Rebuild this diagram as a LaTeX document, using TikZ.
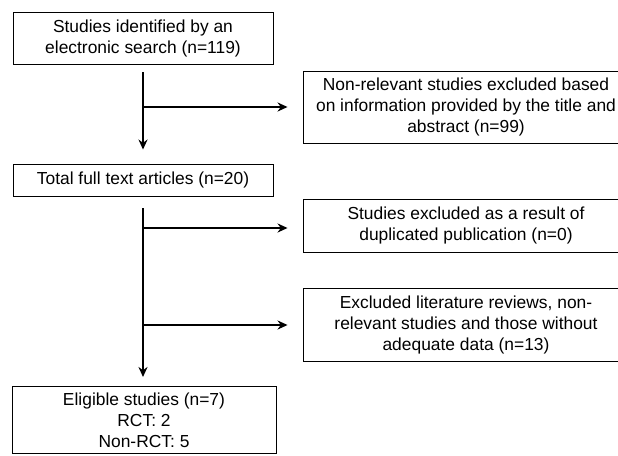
\documentclass[tikz,border=0pt]{standalone}
\usepackage{fontspec}
\setmainfont{Liberation Sans}
\usetikzlibrary{arrows.meta}
\begin{document}
\begin{tikzpicture}[x=1pt,y=-1pt,
             box/.style={draw,line width=0.9pt,align=center,inner sep=0pt,font=\fontsize{17.4}{21}\selectfont},
             arr/.style={line width=1.7pt,-{Stealth[length=10pt,width=9pt]}}]
             \useasboundingbox (0,0) rectangle (618,455);
             \clip (0,0) rectangle (618,455);
             \node[box,minimum width=260pt,minimum height=52pt] (search) at (143,38) {Studies identified by an\\electronic search (n=119)};
             \node[box,minimum width=326pt,minimum height=72pt] (title) at (466,107) {Non-relevant studies excluded based\\on information provided by the title and\\abstract (n=99)};
             \node[box,minimum width=260pt,minimum height=32pt] (full) at (143,180) {Total full text articles (n=20)};
             \node[box,minimum width=326pt,minimum height=53pt] (dup) at (466,225.5) {Studies excluded as a result of\\duplicated publication (n=0)};
             \node[box,minimum width=326pt,minimum height=73pt] (reviews) at (466,324.5) {Excluded literature reviews, non-\\relevant studies and those without\\adequate data (n=13)};
             \node[box,minimum width=264pt,inner ysep=6pt,anchor=north] (eligible) at (144,386) {Eligible studies (n=7)\\RCT: 2\\Non-RCT: 5};
             \coordinate (b1) at (143,107);
             \coordinate (b2) at (143,228);
             \coordinate (b3) at (143,325);
             \draw[arr,shorten <=8pt,shorten >=14pt] (search.south -| b1) -- (full.north -| b1);
             \draw[arr,shorten <=12pt,shorten >=9pt] (full.south -| b1) -- (eligible.north -| b1);
             \draw[arr,shorten >=15pt] (b1) -- (b1 -| title.west);
             \draw[arr,shorten >=15pt] (b2) -- (b2 -| dup.west);
             \draw[arr,shorten >=15pt] (b3) -- (b3 -| reviews.west);
            \end{tikzpicture}
\end{document}
